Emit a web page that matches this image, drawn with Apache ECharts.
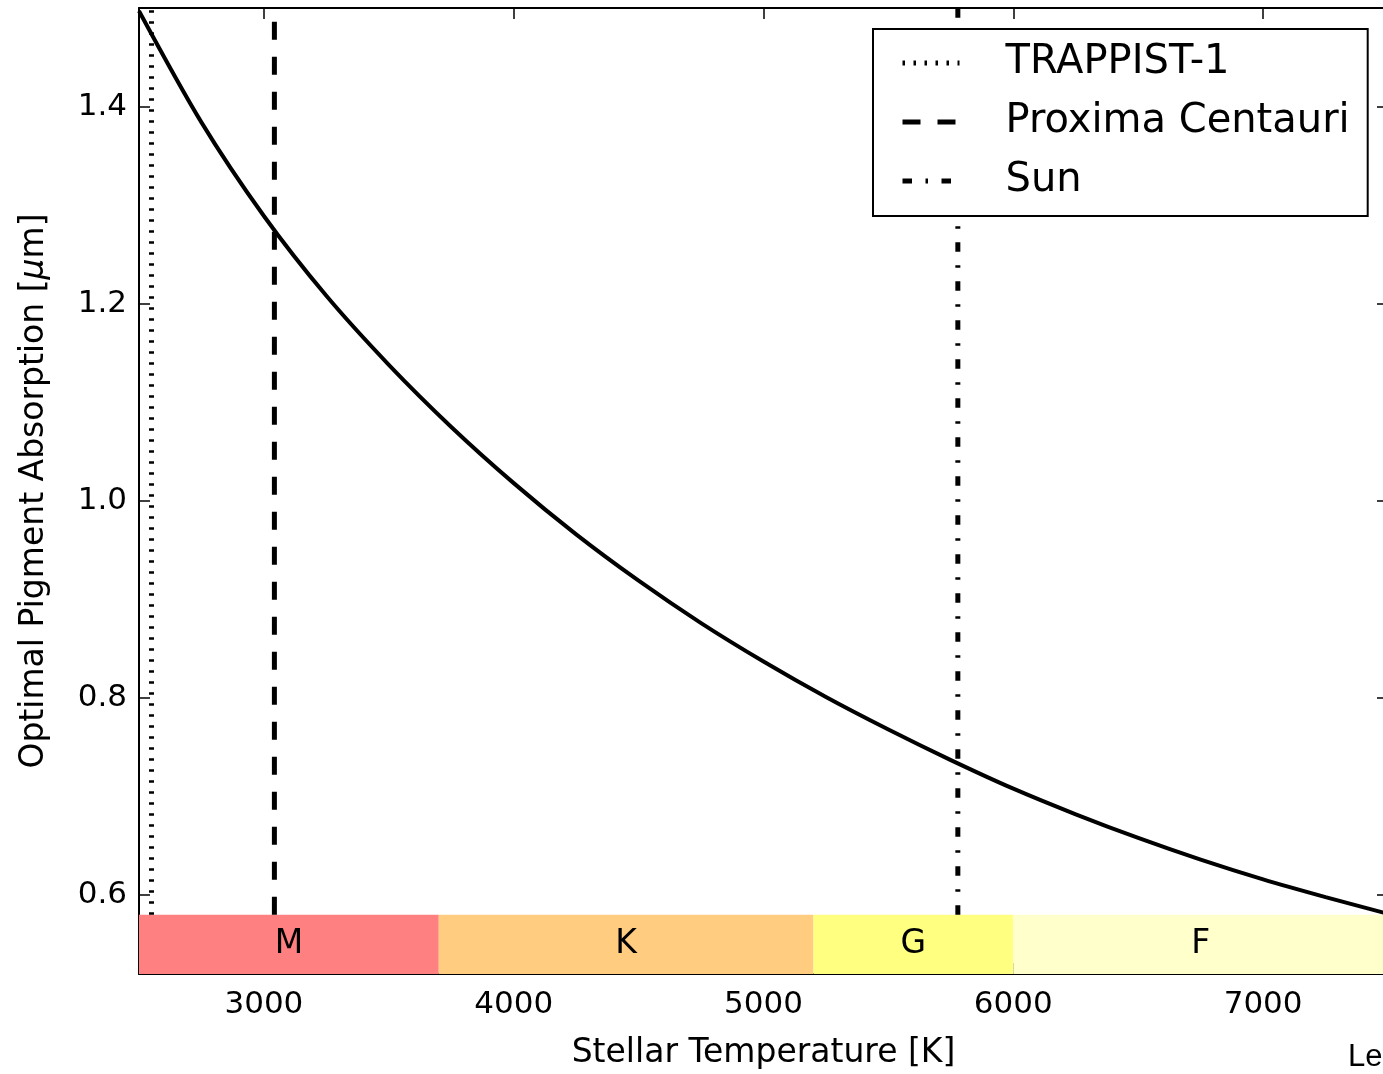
<!DOCTYPE html>
<html><head><meta charset="utf-8">
<script src="https://cdn.jsdelivr.net/npm/echarts@6/dist/echarts.min.js"></script>
<style>html,body{margin:0;padding:0;background:#fff}#c{width:1383px;height:1074px}</style>
</head><body><div id="c"></div>
<script>
// ---- data ----
const temps = [2500,2750,3000,3250,3500,3750,4000,4250,4500,4750,5000,5250,5500,5750,6000,6250,6500,6750,7000,7250,7500];
const absorption = [1.497,1.384,1.289,1.208,1.138,1.075,1.018,0.966,0.919,0.876,0.837,0.801,0.768,0.737,0.708,0.682,0.658,0.636,0.616,0.598,0.581];
const starNames = ['TRAPPIST-1','Proxima Centauri','Sun'];
const starTemps = [2550, 3042, 5778];
const spectralClasses = ['M','K','G','F'];
const classStart = [2500, 3700, 5200, 6000];
const classEnd = [3700, 5200, 6000, 7500];
const xTicks = [3000, 4000, 5000, 6000, 7000];
const yTicks = [0.6, 0.8, 1.0, 1.2, 1.4];
const xRange = [2500, 7500];
const yRange = [0.52, 1.5];
const bandRange = [0.52, 0.58];

// ---- styles ----
const FONT = 'DejaVu Sans';
const classColors = ['#ff8080', '#ffcc80', '#ffff80', '#ffffcc'];
const starLineStyles = [
  {width: 5, type: [2.5, 8.5]},
  {width: 5, type: [18, 17]},
  {width: 5, type: [9.5, 13.5, 2.5, 13.5]}
];

const chart = echarts.init(document.getElementById('c'), null, {renderer: 'canvas'});
const axisLineStyle = {show: true, onZero: false, lineStyle: {color: '#000', width: 2}};
const tickStyle = {color: '#000', width: 1.5};

function xAxisCfg(pos, showLabels) {
  return {
    type: 'value', position: pos, min: xRange[0], max: xRange[1],
    axisLine: axisLineStyle, splitLine: {show: false},
    axisTick: {show: true, inside: true, length: 11, customValues: xTicks, lineStyle: tickStyle},
    axisLabel: {show: showLabels, customValues: xTicks, margin: 15, color: '#000', fontSize: 31, fontFamily: FONT,
      formatter: v => String(Math.round(v))},
    name: showLabels ? 'Stellar Temperature [K]' : '', nameLocation: 'middle', nameGap: 63,
    nameTextStyle: {color: '#000', fontSize: 33, fontFamily: FONT}
  };
}
function yAxisCfg(pos, showLabels) {
  return {
    type: 'value', position: pos, min: yRange[0], max: yRange[1],
    axisLine: axisLineStyle, splitLine: {show: false},
    axisTick: {show: true, inside: true, length: 11, customValues: yTicks, lineStyle: tickStyle},
    axisLabel: {show: showLabels, customValues: yTicks, margin: 12, color: '#000', fontSize: 31, fontFamily: FONT,
      formatter: v => Number(v).toFixed(1)},
    name: showLabels ? 'Optimal Pigment Absorption [{i|μ}m]' : '', nameLocation: 'middle', nameGap: 88,
    nameTextStyle: {color: '#000', fontSize: 33, fontFamily: FONT,
      rich: {i: {fontStyle: 'italic', fontSize: 33, fontFamily: FONT, color: '#000'}}}
  };
}

const series = [];
series.push({
  name: 'curve', type: 'line', xAxisIndex: 0, yAxisIndex: 0,
  data: temps.map((t, i) => [t, absorption[i]]),
  symbol: 'none', smooth: 0.3, z: 3,
  lineStyle: {color: '#000', width: 4},
  markArea: {
    silent: true,
    label: {show: true, position: 'inside', color: '#000', fontSize: 33, fontFamily: FONT},
    data: spectralClasses.map((n, i) => [
      {name: n, xAxis: classStart[i], yAxis: bandRange[0], itemStyle: {color: classColors[i], opacity: 1, borderWidth: 0}},
      {xAxis: classEnd[i], yAxis: bandRange[1]}
    ])
  }
});
starNames.forEach((n, i) => {
  series.push({
    name: n, type: 'line', xAxisIndex: 0, yAxisIndex: 0,
    data: [[starTemps[i], bandRange[1]], [starTemps[i], yRange[1]]],
    symbol: 'none', z: 2,
    lineStyle: {color: '#000', width: starLineStyles[i].width, type: starLineStyles[i].type},
    itemStyle: {color: '#000'}
  });
});

chart.setOption({
  animation: false,
  backgroundColor: '#fff',
  grid: {left: 139, top: 8, width: 1249, height: 966, containLabel: false, outerBoundsMode: 'none'},
  xAxis: [xAxisCfg('bottom', true), xAxisCfg('top', false)],
  yAxis: [yAxisCfg('left', true), yAxisCfg('right', false)],
  legend: {
    data: starNames.map((n, i) => ({
      name: n,
      lineStyle: {width: starLineStyles[i].width, type: starLineStyles[i].type, color: '#000'}
    })),
    orient: 'vertical', left: 873, top: 29,
    padding: [14, 18, 15, 27], itemGap: 19, itemWidth: 57, itemHeight: 38,
    backgroundColor: '#fff', borderColor: '#000', borderWidth: 2, borderRadius: 0,
    selectedMode: false,
    lineStyle: {width: 5},
    itemStyle: {opacity: 0, color: 'rgba(0,0,0,0)', borderWidth: 0},
    textStyle: {fontFamily: FONT, fontSize: 40, lineHeight: 38, color: '#000', padding: [0, 0, 0, 41]}
  },
  graphic: [{type: 'text', left: 1348, top: 1042, style: {text: 'Le', font: '31px "Liberation Sans"', fill: '#000'}}],
  series: series
});
</script></body></html>
